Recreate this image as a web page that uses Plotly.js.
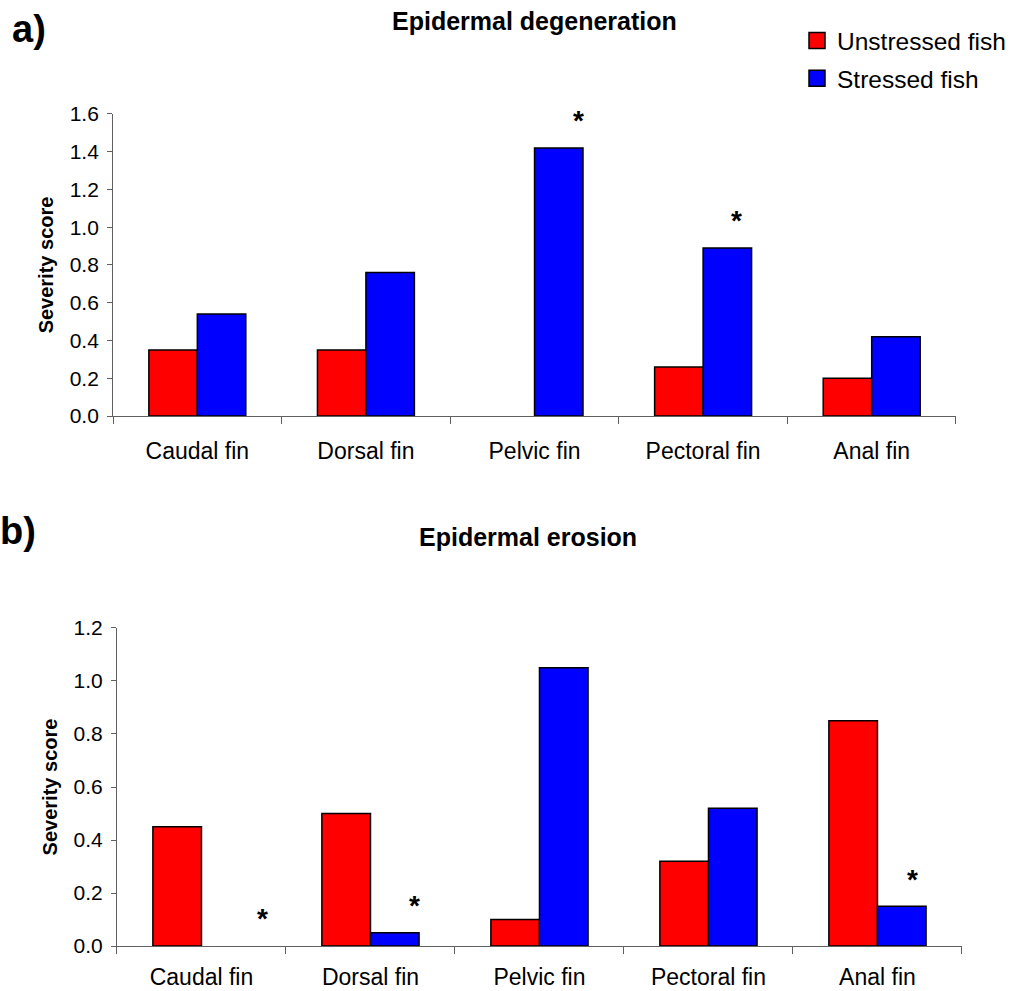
<!DOCTYPE html>
<html>
<head>
<meta charset="utf-8">
<script src="https://cdn.plot.ly/plotly-3.0.1.min.js"></script>
<style>html,body{margin:0;padding:0;background:#fff;}#chart{width:1011px;height:991px;}</style>
</head>
<body>
<div id="chart"></div>
<script>
// ---- data ----
const categories = ["Caudal fin", "Dorsal fin", "Pelvic fin", "Pectoral fin", "Anal fin"];
const degenUnstressed = [0.35, 0.35, 0.0, 0.26, 0.20];
const degenStressed   = [0.54, 0.76, 1.42, 0.89, 0.42];
const erosionUnstressed = [0.45, 0.50, 0.10, 0.32, 0.85];
const erosionStressed   = [0.00, 0.05, 1.05, 0.52, 0.15];
// significance marks (category position, score level)
const degenSigX = [2.26, 3.20];
const degenSigY = [1.595, 1.07];
const erosionSigX = [0.36, 1.26, 4.21];
const erosionSigY = [0.128, 0.174, 0.275];
const seriesNames = ["Unstressed fish", "Stressed fish"];
const panelTitles = ["Epidermal degeneration", "Epidermal erosion"];
const panelLabels = ["a)", "b)"];
const yTitle = "Severity score";

const FONT = "Arial, 'Liberation Sans', sans-serif";
const RED = "#FF0000", BLUE = "#0000FF";
const lineFor = vals => ({color: "#000", width: vals.map(v => v === 0 ? 0 : 1.5)});

const traces = [
  {type: "bar", x: categories, y: degenUnstressed, name: seriesNames[0], marker: {color: RED, line: lineFor(degenUnstressed)}, xaxis: "x", yaxis: "y", showlegend: false},
  {type: "bar", x: categories, y: degenStressed, name: seriesNames[1], marker: {color: BLUE, line: lineFor(degenStressed)}, xaxis: "x", yaxis: "y", showlegend: false},
  {type: "bar", x: categories, y: erosionUnstressed, name: seriesNames[0], marker: {color: RED, line: lineFor(erosionUnstressed)}, xaxis: "x2", yaxis: "y2", showlegend: false},
  {type: "bar", x: categories, y: erosionStressed, name: seriesNames[1], marker: {color: BLUE, line: lineFor(erosionStressed)}, xaxis: "x2", yaxis: "y2", showlegend: false},
  // legend keys
  {type: "scatter", mode: "markers", x: [null], y: [null], name: seriesNames[0], legendgroup: "u", marker: {symbol: "square", size: 17, color: RED, line: {color: "#000", width: 1.5}}, xaxis: "x", yaxis: "y", hoverinfo: "skip"},
  {type: "scatter", mode: "markers", x: [null], y: [null], name: seriesNames[1], legendgroup: "s", marker: {symbol: "square", size: 17, color: BLUE, line: {color: "#000", width: 1.5}}, xaxis: "x", yaxis: "y", hoverinfo: "skip"}
];

const axisColor = "#606060";
function xAxis(domain, anchor, standoff) {
  return {
    domain: domain, anchor: anchor, type: "category",
    showline: true, linecolor: axisColor, linewidth: 1,
    ticks: "outside", tickson: "boundaries", ticklen: 7, tickcolor: axisColor, tickwidth: 1,
    showgrid: false, zeroline: false,
    tickfont: {family: FONT, size: 23, color: "#000"},
    ticklabelstandoff: standoff, fixedrange: true
  };
}
function yAxis(domain, anchor, range) {
  return {
    domain: domain, anchor: anchor, range: range, dtick: 0.2, tick0: 0, tickformat: ".1f",
    showline: true, linecolor: axisColor, linewidth: 1,
    ticks: "outside", ticklen: 5, tickcolor: axisColor, tickwidth: 1,
    showgrid: false, zeroline: false,
    tickfont: {family: FONT, size: 21, color: "#000"},
    ticklabelstandoff: 4,
    title: {text: yTitle, font: {family: FONT, size: 20, color: "#000", weight: "bold"}, standoff: 10},
    fixedrange: true
  };
}

const starFont = {family: FONT, size: 28, color: "#000", weight: "bold"};
const annotations = [];
degenSigX.forEach((x, i) => annotations.push({xref: "x", yref: "y", x: x, y: degenSigY[i], text: "*", showarrow: false, yshift: -6, font: starFont}));
erosionSigX.forEach((x, i) => annotations.push({xref: "x2", yref: "y2", x: x, y: erosionSigY[i], text: "*", showarrow: false, yshift: -6, font: starFont}));
annotations.push({xref: "paper", yref: "paper", x: 534/1011, y: 1 - 21/991, xanchor: "center", yanchor: "middle", text: "<b>" + panelTitles[0] + "</b>", showarrow: false, font: {family: FONT, size: 25, color: "#000"}});
annotations.push({xref: "paper", yref: "paper", x: 528/1011, y: 1 - 537/991, xanchor: "center", yanchor: "middle", text: "<b>" + panelTitles[1] + "</b>", showarrow: false, font: {family: FONT, size: 25, color: "#000"}});
annotations.push({xref: "paper", yref: "paper", x: 29/1011, y: 1 - 29/991, xanchor: "center", yanchor: "middle", text: "<b>" + panelLabels[0] + "</b>", showarrow: false, font: {family: FONT, size: 38, color: "#000"}});
annotations.push({xref: "paper", yref: "paper", x: 18/1011, y: 1 - 531/991, xanchor: "center", yanchor: "middle", text: "<b>" + panelLabels[1] + "</b>", showarrow: false, font: {family: FONT, size: 38, color: "#000"}});

const layout = {
  width: 1011, height: 991,
  margin: {l: 0, r: 0, t: 0, b: 0},
  paper_bgcolor: "#fff", plot_bgcolor: "#fff",
  barmode: "group", bargap: 0.425, bargroupgap: 0,
  showlegend: true,
  legend: {x: 797/1011, y: 1 - 18/991, xanchor: "left", yanchor: "top", font: {family: FONT, size: 24.5, color: "#000"}, itemwidth: 30, tracegroupgap: 3, bgcolor: "rgba(0,0,0,0)"},
  xaxis: xAxis([0.1118, 0.9456], "y", 14),
  yaxis: yAxis([0.5802, 0.885], "x", [0, 1.6]),
  xaxis2: xAxis([0.1157, 0.9515], "y2", 10),
  yaxis2: yAxis([0.0454, 0.3663], "x2", [0, 1.2]),
  annotations: annotations
};

Plotly.newPlot("chart", traces, layout, {displayModeBar: false, staticPlot: true});
</script>
</body>
</html>
